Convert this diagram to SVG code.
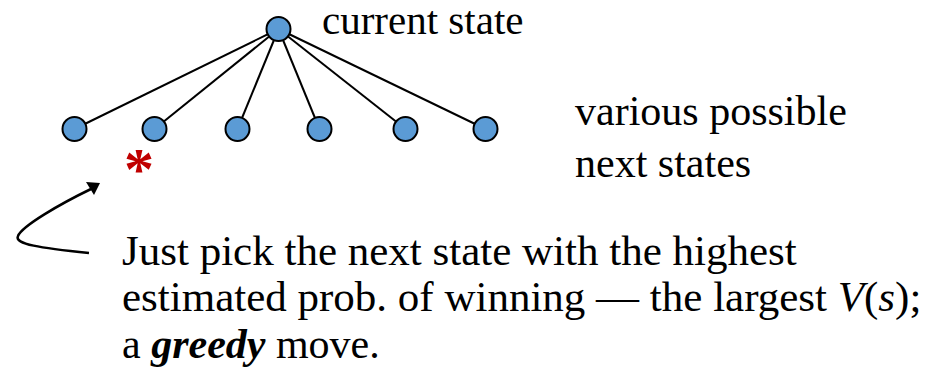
<svg xmlns="http://www.w3.org/2000/svg" width="932" height="376" viewBox="0 0 932 376">
<rect width="932" height="376" fill="#fff"/>
<g id="connectors" stroke="#000" stroke-width="2" fill="none">
<line x1="278.5" y1="29" x2="74.5" y2="129"/>
<line x1="278.5" y1="29" x2="154.5" y2="129"/>
<line x1="278.5" y1="29" x2="237.5" y2="129"/>
<line x1="278.5" y1="29" x2="319.5" y2="129"/>
<line x1="278.5" y1="29" x2="405.5" y2="129"/>
<line x1="278.5" y1="29" x2="485.5" y2="129"/>
<path d="M89,253 C40,248 14,244 18,236 C22,226 60,204 91,189" stroke-width="2.5"/>
<path d="M100,183 L86,182 L94,195 z" fill="#000" stroke="none"/>
</g>
<g fill="#5b9bd5" stroke="#000" stroke-width="2">
<g id="root"><circle cx="278.5" cy="29" r="12"/></g>
<g id="c1"><circle cx="74.5" cy="129" r="12"/></g>
<g id="c2"><circle cx="154.5" cy="129" r="12"/></g>
<g id="c3"><circle cx="237.5" cy="129" r="12"/></g>
<g id="c4"><circle cx="319.5" cy="129" r="12"/></g>
<g id="c5"><circle cx="405.5" cy="129" r="12"/></g>
<g id="c6"><circle cx="485.5" cy="129" r="12"/></g>
</g>
<text x="322" y="34" font-family="Liberation Serif" font-size="41">current state</text>
<text x="575" y="125" font-family="Liberation Serif" font-size="42">various possible</text>
<text x="575" y="177" font-family="Liberation Serif" font-size="42">next states</text>
<text x="122" y="265" font-family="Liberation Serif" font-size="43">Just pick the next state with the highest</text>
<text x="122" y="311" font-family="Liberation Serif" font-size="43">estimated prob. of winning &#8212; the largest <tspan font-style="italic">V</tspan>(<tspan font-style="italic">s</tspan>);</text>
<text x="122" y="358" font-family="Liberation Serif" font-size="42">a <tspan font-style="italic" font-weight="bold">greedy</tspan> move.</text>
<text x="124" y="189" font-family="Liberation Serif" font-size="60" font-weight="bold" fill="#c00000">*</text>
</svg>
